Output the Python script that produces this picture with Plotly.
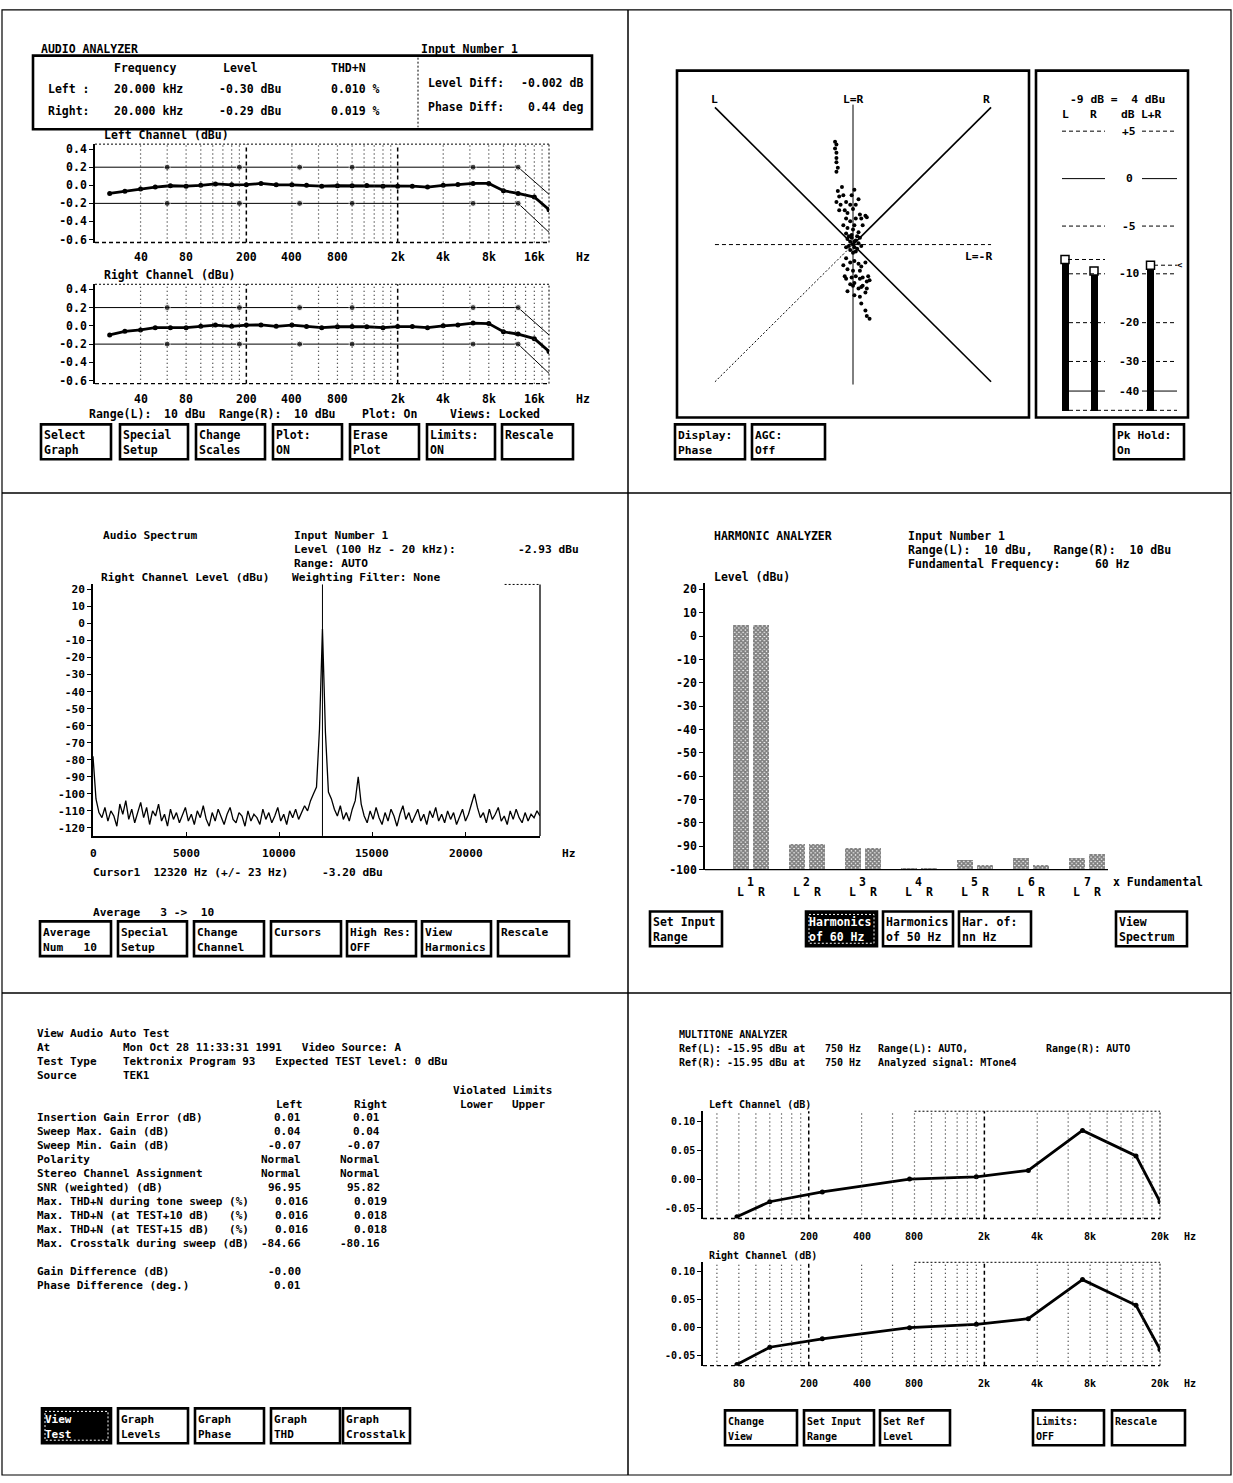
import numpy as np
import plotly.graph_objects as go

# ---------------- Audio analyzer: third-octave sweep (dBu) ----------------
sweep_freq = [25, 31.5, 40, 50, 63, 80, 100, 125, 160, 200, 250, 315, 400, 500, 630,
              800, 1000, 1250, 1600, 2000, 2500, 3150, 4000, 5000, 6300, 8000,
              10000, 12500, 16000, 20000]
left_level = [-0.09, -0.065, -0.04, -0.02, -0.005, -0.01, 0.0, 0.015, 0.005, 0.007,
              0.02, 0.005, 0.005, 0.0, -0.01, -0.005, -0.005, -0.003, -0.01, -0.01,
              -0.01, -0.02, 0.0, 0.008, 0.02, 0.02, -0.06, -0.09, -0.13, -0.27]
right_level = [-0.10, -0.06, -0.045, -0.02, -0.02, -0.02, -0.005, 0.008, -0.005, 0.008,
               0.01, -0.005, 0.008, -0.008, -0.02, -0.01, -0.008, -0.01, -0.02, -0.008,
               -0.008, -0.02, 0.0, 0.01, 0.03, 0.025, -0.065, -0.09, -0.14, -0.28]
limit_freq = [20, 60, 180, 450, 1000, 6300, 12500, 20000]
limit_upper = [0.2, 0.2, 0.2, 0.2, 0.2, 0.2, 0.2, -0.1]
limit_lower = [-0.2, -0.2, -0.2, -0.2, -0.2, -0.2, -0.2, -0.52]
sweep_ticks = [40, 80, 200, 400, 800, 2000, 4000, 8000, 16000]
sweep_ticktext = ["40", "80", "200", "400", "800", "2k", "4k", "8k", "16k"]
level_ticks = [0.4, 0.2, 0.0, -0.2, -0.4, -0.6]

# ---------------- Phase display (L/R scatter, normalised) ----------------
phase_x = [-0.13, -0.12, -0.13, -0.12, -0.12, -0.12, -0.11, -0.12,
           -0.11, -0.10, -0.08, -0.07, -0.05, -0.02, -0.06, -0.04, 0.00, 0.02,
           0.05, 0.06, 0.09, -0.05, -0.02, 0.01, -0.07, -0.04, 0.00, 0.04,
           -0.05, -0.01, 0.02, -0.09, -0.12, -0.10, -0.01, 0.01, 0.04, 0.07, 0.10,
           0.00, 0.02, -0.02, 0.01, -0.03, 0.03, -0.01, 0.04, -0.04, 0.02,
           -0.02, 0.05, 0.00, -0.05, 0.01, 0.03, -0.03, 0.06,
           -0.05, -0.02, 0.01, 0.04, 0.06, 0.09, -0.07, -0.04, 0.00, 0.02,
           0.05, 0.07, 0.10, -0.05, -0.02, 0.00, 0.04, 0.06, 0.09, -0.04,
           0.01, 0.05, 0.11, 0.12, -0.06, -0.01, 0.05, 0.01, 0.07, 0.10,
           0.06, 0.09, 0.10, 0.12]
phase_y = [0.75, 0.73, 0.70, 0.67, 0.63, 0.60, 0.56, 0.53,
           0.39, 0.35, 0.42, 0.36, 0.31, 0.29, 0.25, 0.23, 0.26, 0.29,
           0.22, 0.19, 0.21, 0.19, 0.17, 0.14, 0.14, 0.12, 0.11, 0.09,
           0.08, 0.07, 0.19, 0.29, 0.31, 0.25, 0.36, 0.40, 0.33, 0.14, 0.20,
           0.00, 0.03, 0.02, -0.02, -0.01, -0.03, 0.05, 0.01, 0.04, -0.05,
           -0.04, 0.05, -0.06, -0.02, 0.02, 0.06, 0.06, -0.01,
           -0.10, -0.13, -0.12, -0.14, -0.16, -0.13, -0.15, -0.18, -0.19, -0.23,
           -0.25, -0.24, -0.27, -0.25, -0.29, -0.30, -0.32, -0.31, -0.35, -0.34,
           -0.37, -0.38, -0.23, -0.26, -0.23, -0.24, -0.19, -0.28, -0.30, -0.32,
           -0.43, -0.48, -0.52, -0.54]

# ---------------- Bar meters (dB re 4 dBu) ----------------
meter_labels = ["L", "R", "L+R"]
meter_level = [-8.8, -10.0, -9.4]
meter_peak = [-8.5, -9.7, -9.1]
meter_marks = [5, 0, -5, -10, -20, -30, -40]
meter_mark_text = ["+5", "0", "-5", "-10", "-20", "-30", "-40"]

# ---------------- Audio spectrum, right channel (dBu per 160 Hz bin) ----------------
spec_bin_hz = 160
spec_level = [
    -78, -103, -111, -114, -108, -116, -110, -113, -119, -106,
    -112, -104, -115, -109, -117, -111, -105, -114, -108, -118,
    -110, -113, -106, -116, -112, -119, -109, -115, -111, -117,
    -113, -108, -116, -112, -118, -110, -114, -107, -115, -119,
    -111, -116, -109, -114, -118, -112, -108, -115, -117, -111,
    -113, -119, -110, -116, -112, -114, -118, -109, -115, -111,
    -117, -113, -108, -116, -112, -118, -110, -114, -109, -115,
    -111, -107, -110, -104, -100, -96, -62, -3.2, -64, -99,
    -103, -109, -113, -107, -115, -111, -116, -109, -104, -90,
    -106, -113, -117, -110, -115, -108, -114, -118, -111, -116,
    -109, -113, -119, -112, -107, -115, -111, -117, -113, -109,
    -116, -112, -118, -110, -114, -108, -116, -112, -117, -110,
    -115, -111, -118, -113, -109, -116, -112, -106, -100, -108,
    -114, -111, -117, -109, -115, -112, -108, -116, -113, -118,
    -110, -115, -109, -114, -117, -111, -116, -112, -114, -110,
    -113]
spec_ticks = [0, 5000, 10000, 15000, 20000]
spec_level_ticks = [20, 10, 0, -10, -20, -30, -40, -50, -60, -70, -80, -90, -100, -110, -120]
cursor_hz = 12320
cursor_dbu = -3.20

# ---------------- Harmonic analyzer (dBu, fundamental 60 Hz) ----------------
harm_order = [1, 2, 3, 4, 5, 6, 7]
harm_left = [4.7, -89, -91, -99.6, -96.2, -95.3, -95.3]
harm_right = [4.7, -89, -91, -99.6, -98.3, -98.3, -93.6]
harm_ticks = [20, 10, 0, -10, -20, -30, -40, -50, -60, -70, -80, -90, -100]

# ---------------- Multitone analyzer (dB re 750 Hz) ----------------
mt_freq = [78, 120, 239, 750, 1800, 3560, 7240, 14600, 20000]
mt_left = [-0.065, -0.039, -0.022, 0.0, 0.004, 0.015, 0.084, 0.040, -0.039]
mt_right = [-0.066, -0.035, -0.020, 0.0, 0.006, 0.016, 0.086, 0.040, -0.039]
mt_ticks = [80, 200, 400, 800, 2000, 4000, 8000, 20000]
mt_ticktext = ["80", "200", "400", "800", "2k", "4k", "8k", "20k"]
mt_level_ticks = [0.10, 0.05, 0.0, -0.05]

# ======================================================================
W, H = 1233, 1483
FONT = "DejaVu Sans Mono"
INK = "black"
CUR = {"fs": 11.5}
DOTS = "1px,3px"
FINE = "2px,2px"
DASH = "4px,3px"


def X(x):
    return x / W


def Y(y):
    return 1 - y / H


def nb(s):
    return s.replace(" ", "\u00a0")


def ref(letter, ax):
    return letter if str(ax) == "1" else f"{letter}{ax}"


def tfont(size):
    return dict(family=FONT, size=size, color=INK, weight="bold")


annotations = []
shapes = []


def label(x, y, s, anchor="left", color=INK, size=None, xref="paper", yref="paper"):
    if xref == "paper":
        x = X(x)
    if yref == "paper":
        y = Y(y)
    f = tfont(size or CUR["fs"])
    f["color"] = color
    annotations.append(dict(x=x, y=y, xref=xref, yref=yref, text=nb(s), showarrow=False,
                            xanchor=anchor, yanchor="middle", borderpad=0, font=f))


def pline(x0, y0, x1, y1, width=1.0, dash="solid", color=INK):
    shapes.append(dict(type="line", xref="paper", yref="paper", x0=X(x0), y0=Y(y0),
                       x1=X(x1), y1=Y(y1), line=dict(color=color, width=width, dash=dash)))


def prect(x0, y0, x1, y1, width=1.0, fill="rgba(0,0,0,0)", dash="solid", color=INK):
    shapes.append(dict(type="rect", xref="paper", yref="paper", x0=X(x0), y0=Y(y0),
                       x1=X(x1), y1=Y(y1), fillcolor=fill,
                       line=dict(color=color, width=width, dash=dash)))


def button(x0, y0, x1, y1, lines, inverted=False):
    prect(x0, y0, x1, y1, width=2.6, fill=INK if inverted else "rgba(0,0,0,0)")
    if inverted:
        prect(x0 + 3, y0 + 3, x1 - 3, y1 - 3, width=1, dash=FINE, color="white")
    for k, s in enumerate(lines):
        label(x0 + 2, y0 + 11 + 15 * k, s, color="white" if inverted else INK)


def dline(ax, x0, y0, x1, y1, width=1.0, dash="solid", xdom=True, ydom=True, color=INK):
    xr = ref("x", ax) + (" domain" if xdom else "")
    yr = ref("y", ax) + (" domain" if ydom else "")
    shapes.append(dict(type="line", xref=xr, yref=yr, x0=x0, y0=y0, x1=x1, y1=y1,
                       line=dict(color=color, width=width, dash=dash)))


def log_grid(ax, minor, major):
    for f in minor:
        dline(ax, f, 0, f, 1, width=1.2, dash=DOTS, xdom=False, color="#222")
    for f in major:
        dline(ax, f, 0, f, 1, width=1.5, dash=DASH, xdom=False)


fig = go.Figure()

# ---------------- panel layout frame ----------------
prect(2, 8, 1231, 1482, width=1.2)
pline(628, 8, 628, 1482, width=1.5)
pline(2, 494, 1231, 494, width=1.5)
pline(2, 997, 1231, 997, width=1.5)

# ======================= Audio analyzer (top left) =======================
CUR["fs"] = 11.5
label(40, 47, "AUDIO ANALYZER")
label(420, 47, "Input Number 1")
prect(33, 54, 592, 128, width=2.6)
pline(418, 56, 418, 126, width=1, dash=FINE)
label(113, 66, "Frequency")
label(222, 66, "Level")
label(330, 66, "THD+N")
label(47, 88, "Left :")
label(113, 88, "20.000 kHz")
label(218, 88, "-0.30 dBu")
label(330, 88, "0.010 %")
label(47, 110, "Right:")
label(113, 110, "20.000 kHz")
label(218, 110, "-0.29 dBu")
label(330, 110, "0.019 %")
label(427, 81, "Level Diff:")
label(584, 81, "-0.002 dB", anchor="right")
label(427, 106, "Phase Diff:")
label(584, 106, "0.44 deg", anchor="right")

grid_minor = [40, 60, 80, 100, 120, 140, 160, 180, 400, 600, 800, 1000, 1200, 1400,
              1600, 1800, 4000, 6000, 8000, 10000, 12000, 14000, 16000, 18000]
grid_major = [200, 2000]

for ax, lvl, top, bot, title in (("1", left_level, 143, 242, "Left Channel (dBu)"),
                                 ("2", right_level, 284, 384, "Right Channel (dBu)")):
    xa, ya = ref("x", ax), ref("y", ax)
    log_grid(ax, grid_minor, grid_major)
    fig.add_trace(go.Scatter(x=limit_freq, y=limit_upper, mode="lines+markers",
                             line=dict(color=INK, width=1),
                             marker=dict(size=[0, 6, 6, 6, 6, 6, 6, 0], color=INK),
                             xaxis=xa, yaxis=ya, hoverinfo="skip"))
    fig.add_trace(go.Scatter(x=limit_freq, y=limit_lower, mode="lines+markers",
                             line=dict(color=INK, width=1),
                             marker=dict(size=[0, 6, 6, 6, 6, 6, 6, 0], color=INK),
                             xaxis=xa, yaxis=ya, hoverinfo="skip"))
    fig.add_trace(go.Scatter(x=sweep_freq, y=lvl, mode="lines+markers",
                             line=dict(color=INK, width=2.8), marker=dict(size=5, color=INK),
                             xaxis=xa, yaxis=ya))
    dline(ax, 0, 1, 1, 1, dash=FINE)
    dline(ax, 1, 0, 1, 1, dash=FINE)
    dline(ax, 0, 0, 1, 0, dash=DASH, width=1.4)
    label(103, top - 9, title)
    for f, t in zip(sweep_ticks, sweep_ticktext):
        label(np.log10(f), bot + 15, t, anchor="center", xref=xa)
    label(583, bot + 15, "Hz", anchor="center")

label(88, 415, "Range(L):")
label(163, 415, "10 dBu")
label(218, 415, "Range(R):")
label(293, 415, "10 dBu")
label(361, 415, "Plot: On")
label(449, 415, "Views: Locked")
for x0, x1, txt in ((41, 111, ["Select", "Graph"]), (120, 188, ["Special", "Setup"]),
                    (196, 265, ["Change", "Scales"]), (273, 342, ["Plot:", "ON"]),
                    (350, 419, ["Erase", "Plot"]), (427, 495, ["Limits:", "ON"]),
                    (502, 573, ["Rescale"])):
    button(x0, 425, x1, 460, txt)

# ======================= Phase display (top right) =======================
CUR["fs"] = 11.3
prect(677, 69, 1029, 418, width=2.6)
prect(1036, 69, 1188, 418, width=2.6)
dline(3, -1.0, 1.0, 1.0, -1.0, width=1.6, xdom=False, ydom=False)
dline(3, 0, 0, 1.0, 1.0, width=1.6, xdom=False, ydom=False)
dline(3, -1.0, -1.0, 0, 0, width=1, dash=FINE, xdom=False, ydom=False)
dline(3, 0, 1.02, 0, -1.02, width=1, xdom=False, ydom=False)
dline(3, -1.0, 0, 1.0, 0, width=1, dash=DASH, xdom=False, ydom=False)
fig.add_trace(go.Scatter(x=phase_x, y=phase_y, mode="markers",
                         marker=dict(size=4, color=INK), xaxis="x3", yaxis="y3"))
label(-1.0, 1.06, "L", anchor="center", xref="x3", yref="y3")
label(0, 1.06, "L=R", anchor="center", xref="x3", yref="y3")
label(0.97, 1.06, "R", anchor="center", xref="x3", yref="y3")
label(0.91, -0.09, "L=-R", anchor="center", xref="x3", yref="y3")

# meter scale: non-linear deflection (0 = floor, 100 = +5 dB)
METER_DB = [-50, -40, -30, -20, -10, -5, 0, 5]
METER_DEFL = [0.0, 6.9, 17.5, 31.4, 48.9, 66.0, 83.0, 100.0]


def meter_pos(db):
    return np.interp(db, METER_DB, METER_DEFL)


meter_slot = [29, 58, 114.5]          # column centres inside the meter box
for db, t in zip(meter_marks, meter_mark_text):
    p = meter_pos(db)
    dsh = "solid" if db in (0, -40) else DASH
    dline(4, 26, p, 69, p, dash=dsh, xdom=False, ydom=False)
    dline(4, 106, p, 141, p, dash=dsh, xdom=False, ydom=False)
    label(93, p, t, anchor="center", xref="x4", yref="y4")
dline(4, 26, 0, 141, 0, dash=DASH, xdom=False, ydom=False)
dline(4, 32, meter_pos(meter_peak[0]), 69, meter_pos(meter_peak[0]), dash=DASH,
      xdom=False, ydom=False)
dline(4, 118, meter_pos(meter_peak[2]), 141, meter_pos(meter_peak[2]), dash=DASH,
      xdom=False, ydom=False)
fig.add_trace(go.Bar(x=meter_slot, y=meter_pos(meter_level), base=0, width=7,
                     marker=dict(color=INK, line=dict(width=0)), xaxis="x4", yaxis="y4"))
fig.add_trace(go.Scatter(x=meter_slot, y=meter_pos(meter_peak), mode="markers",
                         marker=dict(symbol="square", size=8, color="white",
                                     line=dict(color=INK, width=1.5)),
                         xaxis="x4", yaxis="y4"))
label(81, 111.4, "-9 dB =  4 dBu", anchor="center", xref="x4", yref="y4")
for xs, t in ((29, "L"), (57, "R"), (92, "dB"), (115, "L+R")):
    label(xs, 106.0, t, anchor="center", xref="x4", yref="y4")
label(144, meter_pos(meter_peak[2]), "<", anchor="center", size=9, xref="x4", yref="y4")

button(675, 425, 745, 460, ["Display:", "Phase"])
button(752, 425, 825, 460, ["AGC:", "Off"])
button(1114, 425, 1184, 460, ["Pk Hold:", "On"])

# ======================= Audio spectrum (middle left) =======================
CUR["fs"] = 11.2
label(102, 537, "Audio Spectrum")
label(293, 537, "Input Number 1")
label(293, 551, "Level (100 Hz - 20 kHz):")
label(580, 551, "-2.93 dBu", anchor="right")
label(293, 565, "Range: AUTO")
label(100, 579, "Right Channel Level (dBu)")
label(291, 579, "Weighting Filter: None")

spec_freq = np.arange(len(spec_level)) * spec_bin_hz
fig.add_trace(go.Scatter(x=spec_freq, y=spec_level, mode="lines",
                         line=dict(color=INK, width=1.3), xaxis="x5", yaxis="y5"))
dline(5, cursor_hz, 0, cursor_hz, 1, width=1, xdom=False)
dline(5, 1, 0, 1, 1, width=1.3)
dline(5, 22100, 1, 24000, 1, dash=FINE, xdom=False)
for v in spec_ticks:
    label(v, 857, str(v), anchor="center", xref="x5")
label(568, 857, "Hz", anchor="center")
label(92, 876, f"Cursor1  {cursor_hz} Hz (+/- 23 Hz)     {cursor_dbu:.2f} dBu")
label(92, 916, "Average   3 ->  10")
for x0, x1, txt in ((40, 111, ["Average", "Num   10"]), (118, 187, ["Special", "Setup"]),
                    (194, 264, ["Change", "Channel"]), (271, 341, ["Cursors"]),
                    (347, 416, ["High Res:", "OFF"]), (422, 491, ["View", "Harmonics"]),
                    (498, 569, ["Rescale"])):
    button(x0, 925, x1, 960, txt)

# ======================= Harmonic analyzer (middle right) =======================
CUR["fs"] = 11.5
label(713, 537, "HARMONIC ANALYZER")
label(907, 537, "Input Number 1")
label(907, 551, "Range(L):  10 dBu,   Range(R):  10 dBu")
label(907, 565, "Fundamental Frequency:     60 Hz")
label(713, 579, "Level (dBu)")

HFLOOR = -100
hx = np.array(harm_order, dtype=float)
pat = dict(shape="x", size=3, solidity=0.8, fgcolor=INK, bgcolor="white")
fig.add_trace(go.Bar(x=hx - 0.18, y=np.array(harm_left) - HFLOOR, base=HFLOOR, width=0.29,
                     marker=dict(color="white", pattern=pat, line=dict(width=0)),
                     xaxis="x6", yaxis="y6"))
fig.add_trace(go.Bar(x=hx + 0.18, y=np.array(harm_right) - HFLOOR, base=HFLOOR, width=0.29,
                     marker=dict(color="white", pattern=pat, line=dict(width=0)),
                     xaxis="x6", yaxis="y6"))
dline(6, 0, 0, 1, 0, width=1.2)
for n in harm_order:
    label(n, 885, str(n), anchor="center", xref="x6")
    label(n - 0.18, 895, "L", anchor="center", xref="x6")
    label(n + 0.18, 895, "R", anchor="center", xref="x6")
label(1112, 885, "x Fundamental")
button(650, 915, 722, 950, ["Set Input", "Range"])
button(806, 915, 877, 950, ["Harmonics", "of 60 Hz"], inverted=True)
button(883, 915, 953, 950, ["Harmonics", "of 50 Hz"])
button(959, 915, 1031, 950, ["Har. of:", "nn Hz"])
button(1116, 915, 1187, 950, ["View", "Spectrum"])

# ======================= Auto test report (bottom left) =======================
CUR["fs"] = 11
label(36, 1038, "View Audio Auto Test")
label(36, 1052, "At")
label(122, 1052, "Mon Oct 28 11:33:31 1991   Video Source: A")
label(36, 1066, "Test Type")
label(122, 1066, "Tektronix Program 93   Expected TEST level: 0 dBu")
label(36, 1080, "Source")
label(122, 1080, "TEK1")
label(452, 1095, "Violated Limits")
label(275, 1109, "Left")
label(353, 1109, "Right")
label(459, 1109, "Lower")
label(511, 1109, "Upper")
report_rows = [
    ("Insertion Gain Error (dB)", "0.01", "0.01"),
    ("Sweep Max. Gain (dB)", "0.04", "0.04"),
    ("Sweep Min. Gain (dB)", "-0.07", "-0.07"),
    ("Polarity", "Normal", "Normal"),
    ("Stereo Channel Assignment", "Normal", "Normal"),
    ("SNR (weighted) (dB)", "96.95", "95.82"),
    ("Max. THD+N during tone sweep (%)", "0.016", "0.019"),
    ("Max. THD+N (at TEST+10 dB)   (%)", "0.016", "0.018"),
    ("Max. THD+N (at TEST+15 dB)   (%)", "0.016", "0.018"),
    ("Max. Crosstalk during sweep (dB)", "-84.66", "-80.16"),
]
for k, (name, lv, rv) in enumerate(report_rows):
    yy = 1122 + 14.1 * k
    label(36, yy, name)
    for v, xr in ((lv, 302), (rv, 381)):
        extra = 7 if ("." in v and len(v.split(".")[1]) == 3) else 0
        label(xr + extra, yy, v, anchor="right")
label(36, 1277, "Gain Difference (dB)")
label(302, 1277, "-0.00", anchor="right")
label(36, 1291, "Phase Difference (deg.)")
label(302, 1291, "0.01", anchor="right")
button(42, 1415, 111, 1450, ["View", "Test"], inverted=True)
button(118, 1415, 188, 1450, ["Graph", "Levels"])
button(195, 1415, 264, 1450, ["Graph", "Phase"])
button(271, 1415, 340, 1450, ["Graph", "THD"])
button(343, 1415, 410, 1450, ["Graph", "Crosstalk"])

# ======================= Multitone analyzer (bottom right) =======================
CUR["fs"] = 10
label(678, 1039, "MULTITONE ANALYZER")
label(678, 1053, "Ref(L):")
label(726, 1053, "-15.95 dBu at")
label(824, 1053, "750 Hz")
label(877, 1053, "Range(L): AUTO,")
label(1045, 1053, "Range(R): AUTO")
label(678, 1067, "Ref(R):")
label(726, 1067, "-15.95 dBu at")
label(824, 1067, "750 Hz")
label(877, 1067, "Analyzed signal: MTone4")

mt_minor = [60, 80, 100, 120, 140, 160, 180, 400, 600, 800, 1000, 1200, 1400, 1600,
            1800, 4000, 6000, 8000, 10000, 12000, 14000, 16000, 18000]
for ax, lvl, top, bot, title in (("7", mt_left, 1116, 1224, "Left Channel (dB)"),
                                 ("8", mt_right, 1268, 1372, "Right Channel (dB)")):
    log_grid(ax, mt_minor, [200, 2000])
    fig.add_trace(go.Scatter(x=mt_freq, y=lvl, mode="lines+markers",
                             line=dict(color=INK, width=2.8), marker=dict(size=5, color=INK),
                             xaxis=f"x{ax}", yaxis=f"y{ax}"))
    dline(ax, 800, 1, 20000, 1, dash=FINE, xdom=False)
    dline(ax, 1, 0, 1, 1, dash=FINE)
    dline(ax, 0, 0, 1, 0, dash=DASH, width=1.4)
    label(708, top - 7, title)
    for f, t in zip(mt_ticks, mt_ticktext):
        label(np.log10(f), bot + 18, t, anchor="center", xref=f"x{ax}")
    label(1190, bot + 18, "Hz", anchor="center")
button(725, 1417, 797, 1452, ["Change", "View"])
button(804, 1417, 874, 1452, ["Set Input", "Range"])
button(880, 1417, 950, 1452, ["Set Ref", "Level"])
button(1033, 1417, 1104, 1452, ["Limits:", "OFF"])
button(1112, 1417, 1185, 1452, ["Rescale"])


# ======================= axes =======================
def hidden(domain, rng, anchor):
    return dict(domain=domain, range=rng, anchor=anchor, visible=False, fixedrange=True)


def yaxis_ticks(domain, rng, anchor, vals, text, size):
    return dict(domain=domain, range=rng, anchor=anchor, showgrid=False, zeroline=False,
                showline=True, linecolor=INK, linewidth=1.6, ticks="outside", ticklen=4,
                tickwidth=1.2, tickcolor=INK, tickvals=vals, ticktext=text,
                tickfont=tfont(size), fixedrange=True)


def xaxis_plain(domain, rng, anchor, log=False, line=False):
    d = dict(domain=domain, range=rng, anchor=anchor, showgrid=False, zeroline=False,
             showline=line, linecolor=INK, linewidth=1.6, showticklabels=False,
             ticks="", fixedrange=True)
    if log:
        d["type"] = "log"
    return d


lvl_txt = [f"{v:.1f}" for v in level_ticks]
sweep_rng = [np.log10(20), np.log10(20000)]
mt_rng = [np.log10(50), np.log10(20000)]
mt_txt = [f"{v:.2f}" for v in mt_level_ticks]

layout = dict(
    width=W, height=H, margin=dict(l=0, r=0, t=0, b=0),
    paper_bgcolor="white", plot_bgcolor="rgba(0,0,0,0)", showlegend=False,
    font=tfont(11.5),
    bargap=0, barmode="overlay",
    xaxis=xaxis_plain([X(95), X(549)], sweep_rng, "y", log=True),
    yaxis=yaxis_ticks([Y(242), Y(143)], [-0.633, 0.455], "x", level_ticks, lvl_txt, 11.5),
    xaxis2=xaxis_plain([X(95), X(549)], sweep_rng, "y2", log=True),
    yaxis2=yaxis_ticks([Y(384), Y(284)], [-0.633, 0.455], "x2", level_ticks, lvl_txt, 11.5),
    xaxis3=hidden([X(677), X(1029)], [-1.275, 1.275], "y3"),
    yaxis3=hidden([Y(418), Y(69)], [-1.26, 1.268], "x3"),
    xaxis4=hidden([X(1036), X(1188)], [0, 152], "y4"),
    yaxis4=hidden([Y(418), Y(69)], [-2.56, 121.7], "x4"),
    xaxis5=dict(xaxis_plain([X(93), X(540)], [0, 24000], "y5", line=True),
                ticks="inside", ticklen=4, tickcolor=INK, tickvals=spec_ticks),
    yaxis5=yaxis_ticks([Y(839), Y(586)], [-124.7, 22.9], "x5", spec_level_ticks,
                       [str(v) for v in spec_level_ticks], 11.2),
    xaxis6=xaxis_plain([X(705), X(1108)], [0.179, 7.375], "y6"),
    yaxis6=yaxis_ticks([Y(873), Y(585)], [-100, 22.55], "x6", harm_ticks,
                       [str(v) for v in harm_ticks], 11.5),
    xaxis7=xaxis_plain([X(703), X(1160)], mt_rng, "y7", log=True),
    yaxis7=yaxis_ticks([Y(1224), Y(1116)], [-0.068, 0.117], "x7", mt_level_ticks, mt_txt, 10),
    xaxis8=xaxis_plain([X(703), X(1160)], mt_rng, "y8", log=True),
    yaxis8=yaxis_ticks([Y(1372), Y(1268)], [-0.068, 0.117], "x8", mt_level_ticks, mt_txt, 10),
    annotations=annotations,
    shapes=shapes,
)
fig.update_layout(**layout)
fig.write_html("out.html")
